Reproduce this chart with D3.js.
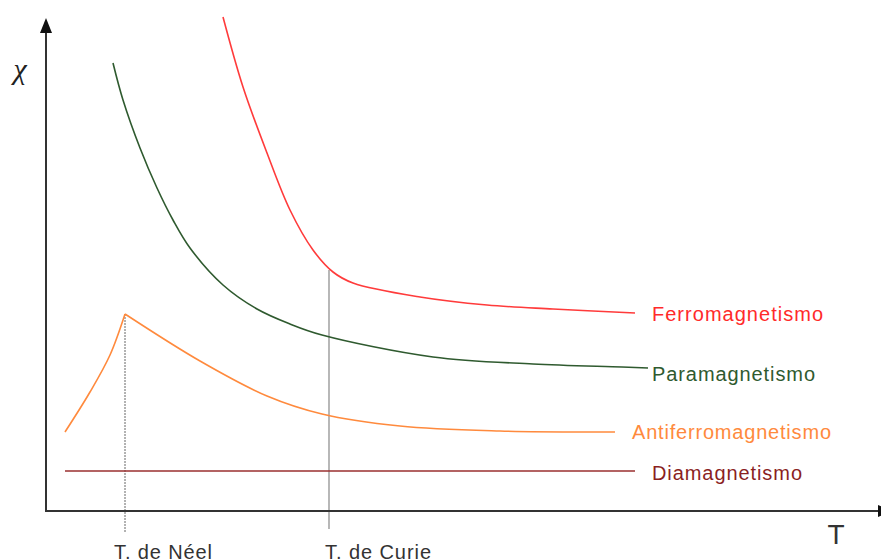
<!DOCTYPE html>
<html lang="es">
<head>
  <meta charset="UTF-8">
  <title>Susceptibilidad magnética</title>
  <style>
    body { margin: 0; background: #fff; }
    svg { display: block; font-family: "Liberation Sans", Arial, sans-serif; }
  </style>
  <script src="https://cdn.jsdelivr.net/npm/d3@7"></script>
</head>
<body>
<svg width="881" height="559"></svg>
<script>
// T and chi in arbitrary units
var ferro = [[177,494],[197,424],[221,358],[244,301],[267,261],[287,239],[307,228],[374,214],[441,206],[507,202],[589,198]];
var para = [[67,448],[77,411],[94,363],[111,323],[127,291],[144,263],[177,226],[211,202],[244,187],[276,176],[387,154],[487,147],[576,144],[602,143]];
var antiLow = [[19,79],[44,119],[64,156],[79,197]];
var antiHigh = [[79,197],[154,150],[221,115],[276,97],[354,85],[454,80],[554,79],[569,79]];
var dia = [[19,40],[589,40]];
var tNeel = 79, tCurie = 283;
var labels = ["Ferromagnetismo", "Paramagnetismo", "Antiferromagnetismo", "Diamagnetismo"];

var svg = d3.select("svg");
var x = d3.scaleLinear().domain([0, 834]).range([46, 880]);
var y = d3.scaleLinear().domain([0, 493]).range([511, 18]);

var line = d3.line()
    .x(function(d) { return x(d[0]); })
    .y(function(d) { return y(d[1]); })
    .curve(d3.curveCatmullRom.alpha(0.5));

// markers for the critical temperatures
svg.append("line")
    .attr("x1", x(tNeel)).attr("x2", x(tNeel))
    .attr("y1", y(197)).attr("y2", y(-22))
    .attr("stroke", "#666").attr("stroke-width", 1)
    .attr("stroke-dasharray", "2,1");
svg.append("line")
    .attr("x1", x(tCurie)).attr("x2", x(tCurie))
    .attr("y1", y(241)).attr("y2", y(-18))
    .attr("stroke", "#888").attr("stroke-width", 1.2);

// axes
svg.append("line")
    .attr("x1", x(0)).attr("x2", x(0))
    .attr("y1", y(0)).attr("y2", y(478))
    .attr("stroke", "#333").attr("stroke-width", 2);
svg.append("line")
    .attr("x1", x(0) - 1).attr("x2", x(834))
    .attr("y1", y(0)).attr("y2", y(0))
    .attr("stroke", "#333").attr("stroke-width", 2);
svg.append("path")
    .attr("d", "M" + x(0) + "," + y(493) + "L" + (x(0) - 6) + "," + y(478) + "L" + (x(0) + 6) + "," + y(478) + "Z")
    .attr("fill", "#111");
svg.append("path")
    .attr("d", "M" + (x(834) - 2) + "," + (y(0) - 6) + "L" + (x(834) + 12) + "," + y(0) + "L" + (x(834) - 2) + "," + (y(0) + 6) + "Z")
    .attr("fill", "#111");

// curves
var series = [
  {data: ferro, color: "#ff3b3b"},
  {data: para, color: "#2f5a2f"},
  {data: antiLow, color: "#ff8a3d"},
  {data: antiHigh, color: "#ff8a3d"},
  {data: dia, color: "#9a2f2f"}
];
svg.append("g").selectAll("path")
  .data(series)
  .enter().append("path")
    .attr("d", function(d) { return line(d.data); })
    .attr("fill", "none")
    .attr("stroke", function(d) { return d.color; })
    .attr("stroke-width", 1.6);

// curve labels
var labelPos = [
  {end: ferro[ferro.length - 1], dx: 17, dy: 8, color: "#ff2a2a", w: 171},
  {end: para[para.length - 1], dx: 4, dy: 13, color: "#2f5a2f", w: 163},
  {end: antiHigh[antiHigh.length - 1], dx: 17, dy: 7, color: "#ff8a3d", w: 199},
  {end: dia[dia.length - 1], dx: 17, dy: 9, color: "#8b1f1f", w: 150}
];
svg.append("g").selectAll("text")
  .data(labels)
  .enter().append("text")
    .attr("x", function(d, i) { return x(labelPos[i].end[0]) + labelPos[i].dx; })
    .attr("y", function(d, i) { return y(labelPos[i].end[1]) + labelPos[i].dy; })
    .attr("fill", function(d, i) { return labelPos[i].color; })
    .attr("font-size", 20)
    .attr("textLength", function(d, i) { return labelPos[i].w; })
    .attr("lengthAdjust", "spacing")
    .text(function(d) { return d; });

// axis labels
svg.append("text")
    .attr("x", x(tNeel) - 11).attr("y", 559)
    .attr("font-size", 20).attr("fill", "#333")
    .attr("textLength", 98).attr("lengthAdjust", "spacing")
    .text("T. de Néel");
svg.append("text")
    .attr("x", x(tCurie) - 4).attr("y", 559)
    .attr("font-size", 20).attr("fill", "#333")
    .attr("textLength", 106).attr("lengthAdjust", "spacing")
    .text("T. de Curie");
svg.append("text")
    .attr("x", 836).attr("y", 544)
    .attr("text-anchor", "middle")
    .attr("font-size", 28).attr("fill", "#333")
    .text("T");
svg.append("text")
    .attr("x", 20).attr("y", 79)
    .attr("text-anchor", "middle")
    .attr("font-family", "'Liberation Serif', serif")
    .attr("font-style", "italic")
    .attr("font-size", 30).attr("fill", "#222")
    .text("χ");
</script>
</body>
</html>
